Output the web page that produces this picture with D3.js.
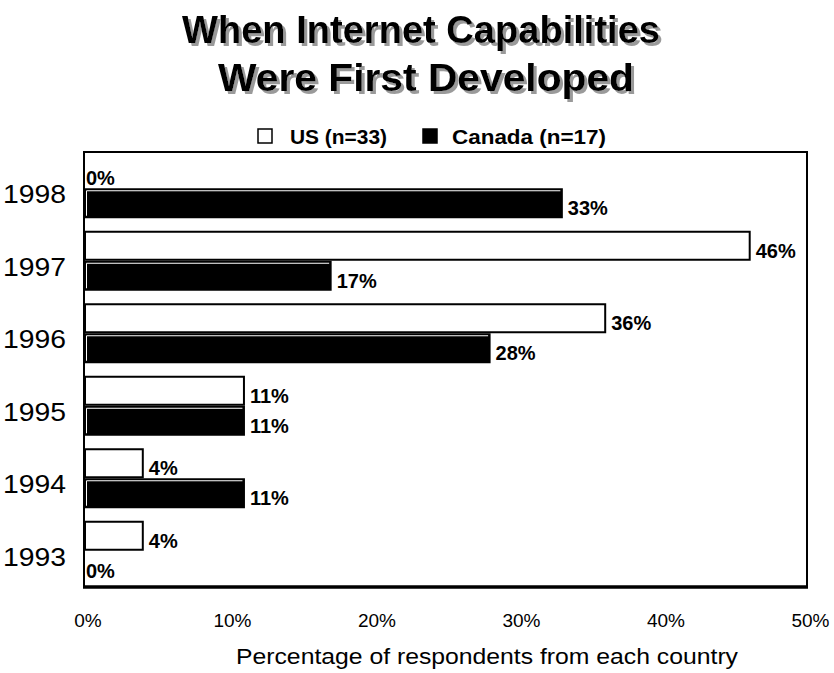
<!DOCTYPE html>
<html>
<head>
<meta charset="utf-8">
<script src="https://cdn.jsdelivr.net/npm/d3@7"></script>
<style>
  html, body { margin: 0; padding: 0; background: #fff; }
  svg { display: block; font-family: "Liberation Sans", Arial, Helvetica, sans-serif; }
</style>
</head>
<body>
<svg id="chart" width="834" height="673"></svg>
<script>
// Survey responses: share of respondents by the year internet capabilities were first developed
const years = ["1998", "1997", "1996", "1995", "1994", "1993"];
const usValues = [0, 46, 36, 11, 4, 4];
const canadaValues = [33, 17, 28, 11, 11, 0];
const seriesNames = ["US (n=33)", "Canada (n=17)"];
const xTicks = [0, 10, 20, 30, 40, 50];
const titleLines = ["When Internet Capabilities", "Were First Developed"];
const xAxisTitle = "Percentage of respondents from each country";

const svg = d3.select("#chart");

// Gray drop shadow for the title
const defs = svg.append("defs");
const shadow = defs.append("filter").attr("id", "titleShadow")
  .attr("x", "-5%").attr("y", "-20%").attr("width", "110%").attr("height", "150%");
shadow.append("feOffset").attr("in", "SourceAlpha").attr("dx", 3).attr("dy", 3).attr("result", "off");
shadow.append("feFlood").attr("flood-color", "#9a9a9a").attr("result", "col");
shadow.append("feComposite").attr("in", "col").attr("in2", "off").attr("operator", "in").attr("result", "sh");
const merge = shadow.append("feMerge");
merge.append("feMergeNode").attr("in", "sh");
merge.append("feMergeNode").attr("in", "SourceGraphic");

const frame = { left: 84, top: 152, right: 807, bottom: 587 };

const x = d3.scaleLinear().domain([0, 50]).range([frame.left + 1, frame.right + 0.5]);
const y = d3.scaleBand().domain(years).range([frame.top, frame.bottom])
  .paddingInner(0.2).paddingOuter(0.1);
const sub = d3.scaleBand().domain(["US", "Canada"]).range([0, y.bandwidth()]).paddingInner(2 / 30);

const rows = years.map((yr, i) => ({ year: yr, US: usValues[i], Canada: canadaValues[i] }));

// Title
const title = svg.append("g").attr("font-weight", "bold").attr("font-size", 39)
  .attr("text-anchor", "middle").attr("filter", "url(#titleShadow)");
const titleWidths = [478, 416];
const titleCenters = [421, 426];
titleLines.forEach((line, i) => {
  title.append("text").attr("x", titleCenters[i]).attr("y", 43 + i * 48)
    .attr("textLength", titleWidths[i]).attr("lengthAdjust", "spacingAndGlyphs")
    .attr("fill", "#000").text(line);
});

// Legend
const legend = svg.append("g").attr("font-weight", "bold").attr("font-size", 21);
const legendItems = [
  { name: seriesNames[0], fill: "#fff", bx: 258, tx: 290, w: 97 },
  { name: seriesNames[1], fill: "#000", bx: 423, tx: 452, w: 154 }
];
legendItems.forEach(d => {
  legend.append("rect").attr("x", d.bx).attr("y", 129).attr("width", 14).attr("height", 14)
    .attr("fill", d.fill).attr("stroke", "#000").attr("stroke-width", 1.5);
  legend.append("text").attr("x", d.tx).attr("y", 144)
    .attr("textLength", d.w).attr("lengthAdjust", "spacingAndGlyphs").text(d.name);
});

// Year labels
svg.append("g").attr("font-size", 26).attr("text-anchor", "end")
  .selectAll("text").data(years).join("text")
  .attr("x", 66).attr("y", d => y(d) + y.bandwidth() / 2 + 15)
  .attr("textLength", 63).attr("lengthAdjust", "spacingAndGlyphs")
  .text(d => d);

const plot = svg.append("g");

// US bars: white with black outline
plot.selectAll("rect.us").data(rows.filter(d => d.US > 0)).join("rect")
  .attr("class", "us")
  .attr("x", x(0)).attr("y", d => y(d.year) + sub("US"))
  .attr("width", d => x(d.US) - x(0)).attr("height", sub.bandwidth())
  .attr("fill", "#fff").attr("stroke", "#000").attr("stroke-width", 2);

// Canada bars: solid black with a thin light highlight along top and left
const cb = plot.selectAll("g.ca").data(rows.filter(d => d.Canada > 0)).join("g").attr("class", "ca");
cb.append("rect")
  .attr("x", x(0)).attr("y", d => y(d.year) + sub("Canada"))
  .attr("width", d => x(d.Canada) - x(0)).attr("height", sub.bandwidth())
  .attr("fill", "#000").attr("stroke", "#000").attr("stroke-width", 2);
cb.append("path")
  .attr("d", d => {
    const x0 = x(0) + 1.5, y0 = y(d.year) + sub("Canada") + 1.5;
    const x1 = x(d.Canada) - 1.5, y1 = y(d.year) + sub("Canada") + sub.bandwidth() - 1.5;
    return `M${x0},${y1}V${y0}H${x1}`;
  })
  .attr("fill", "none").attr("stroke", "#fff").attr("stroke-width", 1);

// Value labels
const labels = svg.append("g").attr("font-weight", "bold").attr("font-size", 20);
["US", "Canada"].forEach(key => {
  labels.selectAll(null).data(rows).join("text")
    .attr("x", d => x(d[key]) + (d[key] > 0 ? 6 : 1))
    .attr("y", d => y(d.year) + sub(key) + sub.bandwidth() - 2)
    .text(d => d[key] + "%");
});

// Plot frame
svg.append("path")
  .attr("d", `M${frame.left},${frame.bottom}V${frame.top}H${frame.right}V${frame.bottom}`)
  .attr("fill", "none").attr("stroke", "#000").attr("stroke-width", 2);
svg.append("line")
  .attr("x1", frame.left - 1).attr("x2", frame.right + 1)
  .attr("y1", frame.bottom).attr("y2", frame.bottom)
  .attr("stroke", "#000").attr("stroke-width", 3.5);

// X axis tick labels
svg.append("g").attr("font-size", 19).attr("text-anchor", "middle")
  .selectAll("text").data(xTicks).join("text")
  .attr("x", d => x(d) + 3).attr("y", 627)
  .text(d => d + "%");

svg.append("text").attr("x", 487).attr("y", 664).attr("text-anchor", "middle")
  .attr("font-size", 22).attr("textLength", 502).attr("lengthAdjust", "spacingAndGlyphs")
  .text(xAxisTitle);
</script>
</body>
</html>
